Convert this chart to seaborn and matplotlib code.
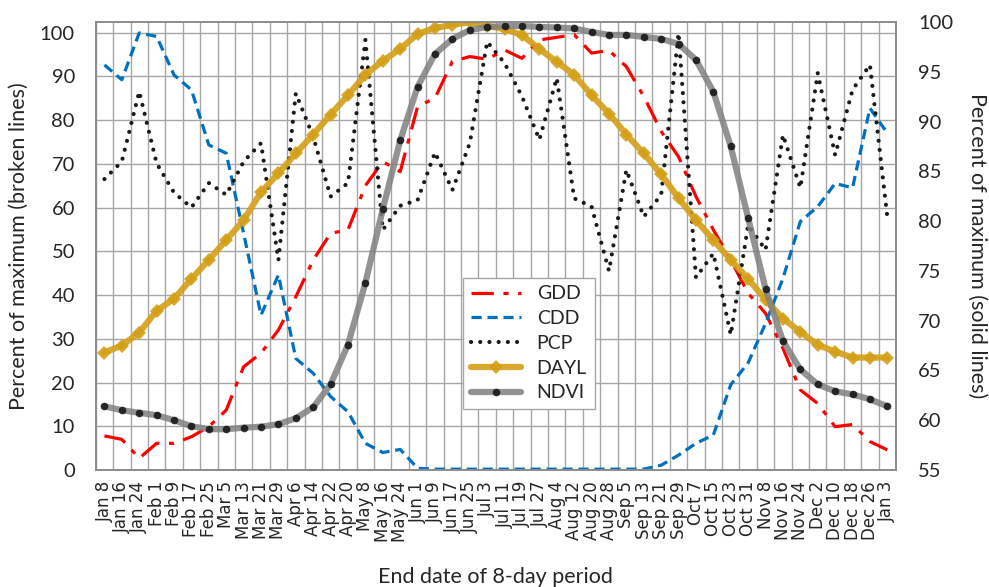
import numpy as np
import pandas as pd
import matplotlib
matplotlib.use('Agg')
import matplotlib.pyplot as plt
import seaborn as sns

# --- data ---
periods = ['Jan 8', 'Jan 16', 'Jan 24', 'Feb 1', 'Feb 9', 'Feb 17', 'Feb 25', 'Mar 5',
           'Mar 13', 'Mar 21', 'Mar 29', 'Apr 6', 'Apr 14', 'Apr 22', 'Apr 20', 'May 8',
           'May 16', 'May 24', 'Jun 1', 'Jun 9', 'Jun 17', 'Jun 25', 'Jul 3', 'Jul 11',
           'Jul 19', 'Jul 27', 'Aug 4', 'Aug 12', 'Aug 20', 'Aug 28', 'Sep 5', 'Sep 13',
           'Sep 21', 'Sep 29', 'Oct 7', 'Oct 15', 'Oct 23', 'Oct 31', 'Nov 8', 'Nov 16',
           'Nov 24', 'Dec 2', 'Dec 10', 'Dec 18', 'Dec 26', 'Jan 3']

# broken lines, left axis
gdd = [7.8, 7.0, 2.7, 6.1, 6.1, 7.6, 9.9, 13.7, 23.6, 26.7, 32.0, 39.6, 48.0, 54.1, 54.9, 65.0,
       70.5, 68.2, 83.1, 85.0, 93.4, 94.5, 93.9, 96.0, 94.1, 98.3, 98.9, 99.5, 95.3, 95.9,
       92.2, 85.4, 77.4, 71.6, 62.5, 54.9, 48.0, 40.4, 35.8, 27.8, 18.3, 15.2, 9.9, 10.4, 6.5, 4.6]
cdd = [92.6, 89.2, 99.9, 99.1, 90.3, 86.9, 74.3, 72.4, 54.1, 35.4, 44.6, 25.5, 22.1, 16.8, 13.3,
       6.1, 4.0, 4.7, 0.4, 0.2, 0.2, 0.2, 0.2, 0.2, 0.2, 0.2, 0.2, 0.2, 0.2, 0.2, 0.2, 0.2,
       1.1, 3.4, 6.1, 8.0, 19.5, 24.5, 33.5, 43.8, 56.8, 60.2, 65.5, 64.5, 82.7, 77.0]
pcp = [66.5, 70.5, 86.5, 70.1, 63.4, 60.0, 65.6, 62.9, 70.5, 74.7, 48.0, 86.1, 76.2, 62.5, 65.6,
       98.3, 54.9, 60.4, 61.7, 72.6, 64.0, 74.7, 97.9, 93.0, 85.4, 75.5, 89.6, 62.1, 60.2, 45.5,
       68.6, 57.9, 62.9, 99.9, 44.0, 49.5, 30.9, 56.0, 50.3, 76.6, 64.5, 90.7, 72.0, 86.9, 92.6, 57.8]

# solid lines, right axis
dayl = [66.8, 67.5, 68.8, 71.0, 72.2, 74.2, 76.1, 78.1, 80.1, 82.9, 84.8, 86.8, 88.7, 90.7, 92.65,
        94.7, 96.1, 97.3, 98.8, 99.4, 99.7, 100.0, 99.6, 99.3, 98.7, 97.3, 96.0, 94.7, 92.65, 90.8,
        88.7, 86.8, 84.7, 82.3, 80.1, 78.1, 76.1, 74.2, 72.1, 70.2, 68.9, 67.55, 66.9, 66.3, 66.3, 66.3]
ndvi = [61.4, 61.0, 60.75, 60.5, 60.0, 59.4, 59.1, 59.1, 59.25, 59.35, 59.6, 60.2, 61.3, 63.6, 67.6,
        73.8, 81.2, 88.1, 93.5, 96.8, 98.3, 99.2, 99.5, 99.6, 99.6, 99.5, 99.45, 99.35, 99.0, 98.7,
        98.7, 98.5, 98.3, 97.8, 96.2, 93.0, 87.5, 80.3, 73.2, 67.95, 65.1, 63.6, 62.9, 62.6, 62.1, 61.4]

df = pd.DataFrame({'pos': np.arange(len(periods)), 'GDD': gdd, 'CDD': cdd, 'PCP': pcp,
                   'DAYL': dayl, 'NDVI': ndvi})

# --- style ---
sns.set_theme(style='white')
plt.rcParams['font.family'] = ['Lato', 'DejaVu Sans']

fig = plt.figure(figsize=(9.89, 5.87), dpi=100)
ax = fig.add_axes([0.0968, 0.1993, 0.8092, 0.7632])
ax2 = ax.twinx()

# broken lines (left axis)
sns.lineplot(data=df, x='pos', y='GDD', ax=ax, color='#FF0000', linewidth=2.3,
             linestyle=(0, (7, 3, 1.6, 3)), label='GDD')
sns.lineplot(data=df, x='pos', y='CDD', ax=ax, color='#0070C0', linewidth=2.3,
             linestyle=(0, (3.2, 1.8)), label='CDD')
sns.lineplot(data=df, x='pos', y='PCP', ax=ax, color='#1a1a1a', linewidth=3.0,
             linestyle=(0, (0.01, 2.2)), dash_capstyle='round', label='PCP')

# solid lines (right axis)
sns.lineplot(data=df, x='pos', y='DAYL', ax=ax2, color='#D4A017', linewidth=4.5, alpha=0.9,
             marker='D', markersize=7, markeredgewidth=0, label='DAYL')
sns.lineplot(data=df, x='pos', y='NDVI', ax=ax2, color='#808080', linewidth=4.5, alpha=0.85,
             marker='o', markersize=5.5, markerfacecolor='#111111', markeredgewidth=0, label='NDVI')

# axes
ax.set_xlim(-0.5, len(periods) - 0.5)
ax.set_ylim(0, 102.4)
ax2.set_ylim(55, 100)
ax.set_yticks(np.arange(0, 101, 10))
ax2.set_yticks(np.arange(55, 101, 5))
ax.set_xticks(df['pos'])
ax.set_xticklabels(periods, rotation=90, fontsize=12, family='DejaVu Sans')
ax.set_xticks(np.arange(-0.5, len(periods), 1), minor=True)
ax.tick_params(axis='y', labelsize=14.5, length=0, pad=15)
ax2.tick_params(axis='y', labelsize=14.5, length=0, pad=16)
ax.tick_params(axis='x', length=0, pad=8)
ax.tick_params(axis='x', which='minor', length=0)

ax.grid(True, axis='y', which='major', color='#A6A6A6', linewidth=1)
ax.grid(True, axis='x', which='minor', color='#A6A6A6', linewidth=1)
ax.set_axisbelow(True)
for sp in list(ax.spines.values()) + list(ax2.spines.values()):
    sp.set_color('#8C8C8C')
    sp.set_linewidth(1.2)

ax.set_ylabel('Percent of maximum (broken lines)', fontsize=15.5, labelpad=8)
ax2.set_ylabel('Percent of maximum (solid lines)', fontsize=15.5, rotation=270, labelpad=24)
ax.set_xlabel('End date of 8-day period', fontsize=15.5, labelpad=18)

# legend with all five series
h1, l1 = ax.get_legend_handles_labels()
h2, l2 = ax2.get_legend_handles_labels()
ax.get_legend().remove()
ax2.legend(h1 + h2, l1 + l2, loc='lower left', bbox_to_anchor=(0.4465, 0.114),
           fontsize=14, frameon=True, fancybox=False, edgecolor='#A6A6A6',
           framealpha=1, handlelength=2.6, labelspacing=0.4, borderpad=0.4)

fig.savefig('out.png', dpi=100)
